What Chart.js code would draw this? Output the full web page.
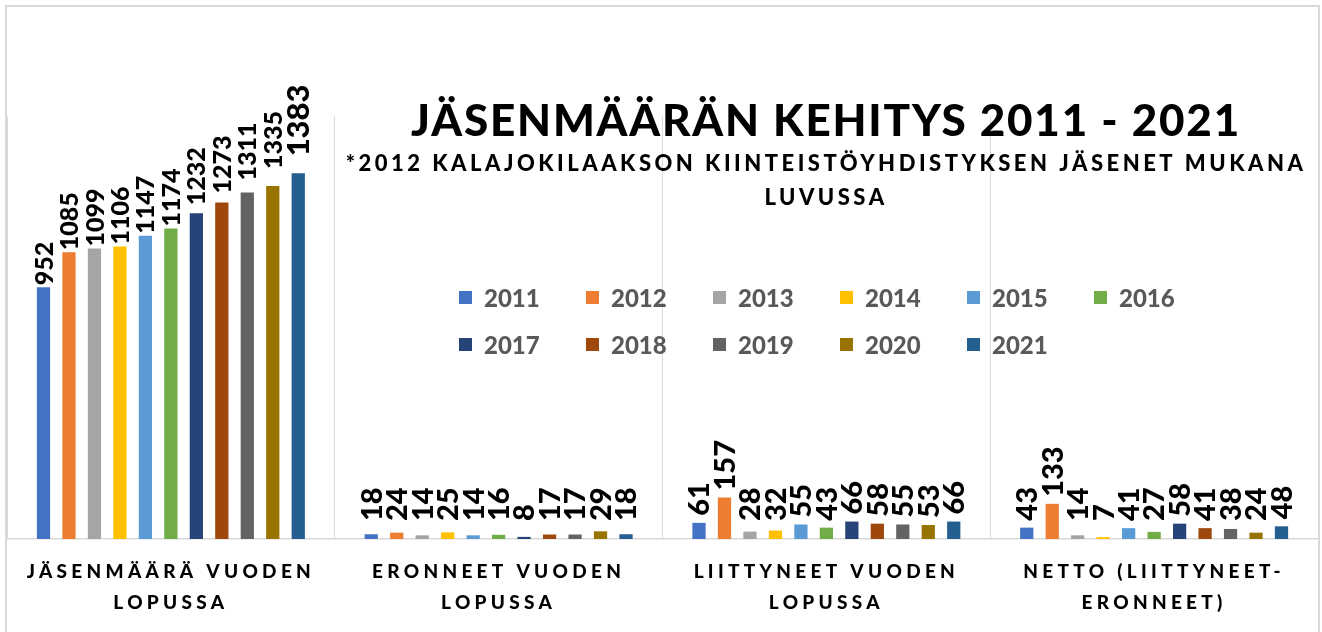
<!DOCTYPE html>
<html><head><meta charset="utf-8">
<script src="https://cdn.jsdelivr.net/npm/chart.js@4.4.1/dist/chart.umd.min.js"></script>
<style>
html,body{margin:0;padding:0;background:#fff;}
#wrap{position:relative;width:1322px;height:632px;overflow:hidden;}
#frame{position:absolute;left:5px;top:5px;width:1311px;height:640px;border:2px solid #d9d9d9;pointer-events:none;}
canvas{position:absolute;left:0;top:0;}
</style></head><body>
<div id="wrap"><canvas id="c" width="1322" height="632"></canvas><div id="frame"></div></div>
<script>
const categories = [
  ['JÄSENMÄÄRÄ VUODEN', 'LOPUSSA'],
  ['ERONNEET VUODEN', 'LOPUSSA'],
  ['LIITTYNEET VUODEN', 'LOPUSSA'],
  ['NETTO (LIITTYNEET-', 'ERONNEET)']
];
const years = ['2011','2012','2013','2014','2015','2016','2017','2018','2019','2020','2021'];
const v2011 = [952, 18, 61, 43];
const v2012 = [1085, 24, 157, 133];
const v2013 = [1099, 14, 28, 14];
const v2014 = [1106, 25, 32, 7];
const v2015 = [1147, 14, 55, 41];
const v2016 = [1174, 16, 43, 27];
const v2017 = [1232, 8, 66, 58];
const v2018 = [1273, 17, 58, 41];
const v2019 = [1311, 17, 55, 38];
const v2020 = [1335, 29, 53, 24];
const v2021 = [1383, 18, 66, 48];
const seriesValues = [v2011, v2012, v2013, v2014, v2015, v2016, v2017, v2018, v2019, v2020, v2021];
const colors = ['#4472C4','#ED7D31','#A5A5A5','#FFC000','#5B9BD5','#70AD47','#264478','#9E480E','#636363','#997300','#255E91'];
const titleText = 'JÄSENMÄÄRÄN KEHITYS 2011 - 2021';
const subtitleLines = ['*2012 KALAJOKILAAKSON KIINTEISTÖYHDISTYKSEN JÄSENET MUKANA', 'LUVUSSA'];

// label styling for the first category (offset above bar, font size)
const firstCatLift = [2, 2, 2, 2, 2, 2, 8, 9, 12, 17, 17];
const firstCatSize = [25, 25, 25, 25, 25, 25, 25, 25, 25, 25, 31];

const FONT = 'Lato, "Open Sans", sans-serif';

const tickSpacing = {
  id: 'tickSpacing',
  beforeDraw(chart) { chart.ctx.letterSpacing = '4.3px'; },
  beforeDatasetsDraw(chart) { chart.ctx.letterSpacing = '0px'; }
};

const valueLabels = {
  id: 'valueLabels',
  afterDatasetsDraw(chart) {
    const ctx = chart.ctx;
    const bottom = chart.chartArea.bottom;
    chart.data.datasets.forEach((ds, di) => {
      const meta = chart.getDatasetMeta(di);
      meta.data.forEach((bar, i) => {
        let size, yStart;
        if (i === 0) { size = firstCatSize[di]; yStart = bar.y - firstCatLift[di]; }
        else { size = 29; yStart = Math.min(bar.y - 7, bottom - 18); }
        ctx.save();
        ctx.letterSpacing = '0px';
        ctx.font = '900 ' + size + 'px ' + FONT;
        ctx.fillStyle = '#000';
        ctx.translate(bar.x + 1, yStart);
        ctx.rotate(-Math.PI / 2);
        ctx.textAlign = 'left';
        ctx.textBaseline = 'middle';
        ctx.fillText(String(ds.data[i]), 0, 0);
        ctx.restore();
      });
    });
  }
};

const overlayText = {
  id: 'overlayText',
  afterDraw(chart) {
    const ctx = chart.ctx;
    const cx = 826;
    ctx.save();
    ctx.fillStyle = '#000';
    ctx.textAlign = 'center';
    ctx.textBaseline = 'alphabetic';
    ctx.letterSpacing = '1.8px';
    ctx.font = '900 44px ' + FONT;
    ctx.fillText(titleText, cx, 136);
    ctx.letterSpacing = '3.5px';
    ctx.font = '900 22px ' + FONT;
    ctx.fillText(subtitleLines[0], cx, 171);
    ctx.fillText(subtitleLines[1], cx, 205);
    // legend
    ctx.letterSpacing = '0px';
    ctx.textAlign = 'left';
    ctx.textBaseline = 'middle';
    ctx.font = '900 24px ' + FONT;
    chart.data.datasets.forEach((ds, i) => {
      const r = Math.floor(i / 6), c = i % 6;
      const x = 459 + c * 127, y = 298 + r * 47;
      ctx.fillStyle = ds.backgroundColor;
      ctx.fillRect(x, y - 7, 13, 13);
      ctx.fillStyle = '#595959';
      ctx.fillText(ds.label, x + 25, y + 1);
    });
    ctx.restore();
  }
};

new Chart(document.getElementById('c'), {
  type: 'bar',
  data: {
    labels: categories,
    datasets: years.map((y, i) => ({
      label: y,
      data: seriesValues[i],
      backgroundColor: colors[i],
      borderWidth: 0,
      categoryPercentage: 0.855,
      barPercentage: 0.52
    }))
  },
  options: {
    responsive: false,
    animation: false,
    devicePixelRatio: 1,
    layout: { padding: { left: 7, right: 4, top: 116, bottom: 0 } },
    plugins: { legend: { display: false }, title: { display: false }, tooltip: { enabled: false } },
    scales: {
      x: {
        offset: true,
        grid: { display: true, color: '#d9d9d9', lineWidth: 1, drawTicks: false, offset: true },
        border: { display: true, color: '#d9d9d9', width: 1.5 },
        ticks: { color: '#000', font: { family: FONT, size: 19, weight: '900', lineHeight: 1.6 }, padding: 18, maxRotation: 0, autoSkip: false },
        afterFit(scale) { scale.height = 93; }
      },
      y: { display: false, min: 0, max: 1600 }
    }
  },
  plugins: [tickSpacing, valueLabels, overlayText]
});
</script>
</body></html>
